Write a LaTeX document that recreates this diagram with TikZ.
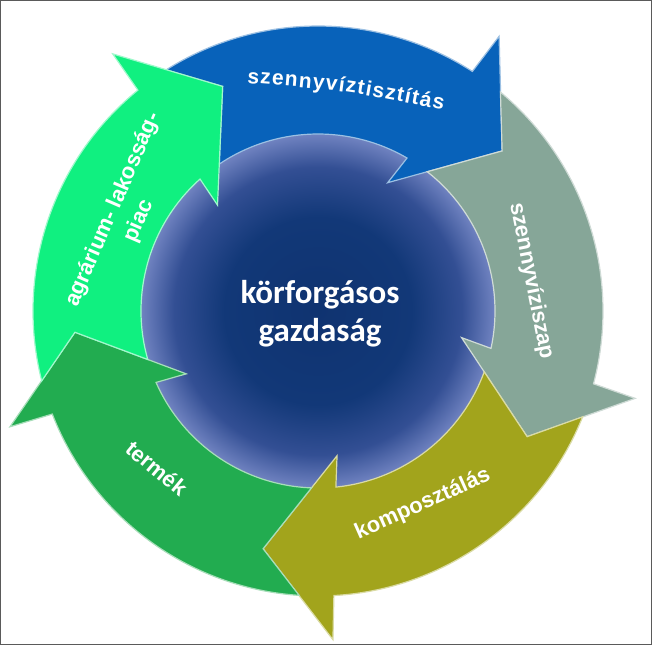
\documentclass[tikz,border=0pt]{standalone}
\usepackage{fontspec}
\setmainfont{Liberation Sans}
\newfontfamily\labfont{Liberation Sans}
\newfontfamily\corefont{Carlito}
\usetikzlibrary{decorations.text}
\definecolor{cblue}{RGB}{8,98,186}
\definecolor{cgray}{RGB}{134,166,152}
\definecolor{colive}{RGB}{162,164,28}
\definecolor{cgreen}{RGB}{34,172,80}
\definecolor{cmint}{RGB}{16,240,128}
\definecolor{framegray}{RGB}{90,90,90}
\pgfdeclareradialshading{coreshade}{\pgfpointorigin}{rgb(0bp)=(0.06,0.20,0.44); rgb(13bp)=(0.07,0.22,0.47); rgb(20bp)=(0.20,0.31,0.58); rgb(25bp)=(0.46,0.53,0.77); rgb(50bp)=(0.46,0.53,0.77)}
\tikzset{
  lab/.style={text=white, font=\labfont\bfseries\fontsize{22}{28}\selectfont, inner sep=0pt},
  corelab/.style={text=white, font=\corefont\bfseries\fontsize{33}{38}\selectfont, align=center, inner sep=0pt},
  arrowshape/.style={line width=1.2pt, line join=miter}
}
\begin{document}
\begin{tikzpicture}[x=1pt,y=1pt]
\useasboundingbox (-318,-335) rectangle (335,311);
\fill[white] (-318,-335) rectangle (335,311);
\shade[shading=coreshade] (0,0) circle (180);
\foreach \o/\c in {0/cblue,72/cgray,144/colive,216/cgreen,288/cmint}{
  \filldraw[arrowshape, fill=\c, draw=\c!40!white]
    (122.2-\o:285) arc[start angle=122.2-\o, end angle=57.2-\o, radius=285]
    -- (56.6-\o:329) -- (41-\o:244) -- (61.5-\o:146) -- (59.8-\o:177)
    arc[start angle=59.8-\o, end angle=123.9-\o, radius=177]
    -- (113-\o:244) -- cycle;
}
\path[decorate, decoration={text along path, text={|\labfont\bfseries\fontsize{21}{24}\selectfont|szennyvíztisztítás}, text color=white, text align=fit to path}]
  (-71,228) .. controls (27.8,220.4) .. (125,201);
\node[lab, anchor=base, rotate=-78.8] (zap) at (207.6,28.9) {szennyvíziszap};
\node[lab, anchor=base, rotate=24] (komp) at (107.2,-198.5) {komposztálás};
\node[lab, anchor=base, rotate=-39.5] (termek) at (-166,-163.4) {termék};
\node[lab, align=center, rotate=66.6] (agrar) at (-191.9,95.7) {agrárium- lakosság-\\piac};
\node[corelab] (core) at (2,-2.5) {körforgásos\\gazdaság};
\draw[framegray, line width=1.5pt] (-317.25,-333.5) rectangle (333.5,310.25);
\end{tikzpicture}
\end{document}
